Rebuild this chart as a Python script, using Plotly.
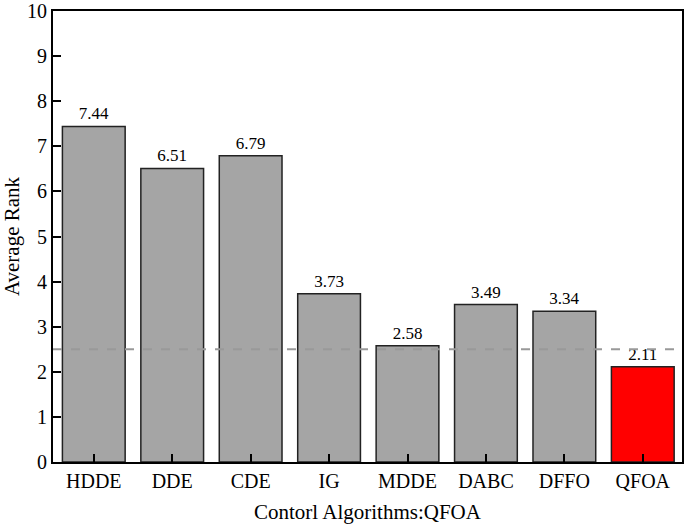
import plotly.graph_objects as go

algorithms = ["HDDE", "DDE", "CDE", "IG", "MDDE", "DABC", "DFFO", "QFOA"]
avg_rank = [7.44, 6.51, 6.79, 3.73, 2.58, 3.49, 3.34, 2.11]
bar_colors = ["#A5A5A5"] * 7 + ["#FF0000"]
threshold = 2.5

fig = go.Figure()
fig.add_trace(go.Bar(
    x=algorithms, y=avg_rank,
    marker=dict(color=bar_colors, line=dict(color="#222222", width=1.5)),
    width=0.8,
    text=[f"{v:.2f}" for v in avg_rank],
    textposition="outside",
    constraintext="none",
    textfont=dict(family="Liberation Serif", size=17, color="#000000"),
    cliponaxis=False,
    showlegend=False,
    hoverinfo="skip",
))
fig.add_shape(type="line", xref="paper", yref="y", x0=0, x1=1, y0=threshold, y1=threshold,
              line=dict(color="#999999", width=2, dash="dash"))

fig.update_layout(
    width=685, height=527,
    margin=dict(l=53, r=3, t=11, b=65),
    paper_bgcolor="white", plot_bgcolor="white",
    font=dict(family="Liberation Serif", color="#000000"),
    uniformtext=dict(mode=False),
)
fig.update_xaxes(
    range=[-0.52, 7.5], automargin=False,
    showline=True, linecolor="#000000", linewidth=2, mirror=True,
    ticks="inside", ticklen=8, tickwidth=2, tickcolor="#000000",
    tickfont=dict(size=20, family="Liberation Serif"),
    title=dict(text="Contorl Algorithms:QFOA", font=dict(size=21, family="Liberation Serif"), standoff=13),
    showgrid=False,
)
fig.update_yaxes(
    range=[0, 10], dtick=1, automargin=False,
    showline=True, linecolor="#000000", linewidth=2, mirror=True,
    ticks="inside", ticklen=8, tickwidth=2, tickcolor="#000000",
    tickfont=dict(size=20, family="Liberation Serif"),
    ticklabeloverflow="allow",
    title=dict(text="Average Rank", font=dict(size=21, family="Liberation Serif"), standoff=10),
    showgrid=False, zeroline=False,
)

fig.write_html("out.html", config={"displayModeBar": False},
               post_script="document.body.style.margin='0';")
